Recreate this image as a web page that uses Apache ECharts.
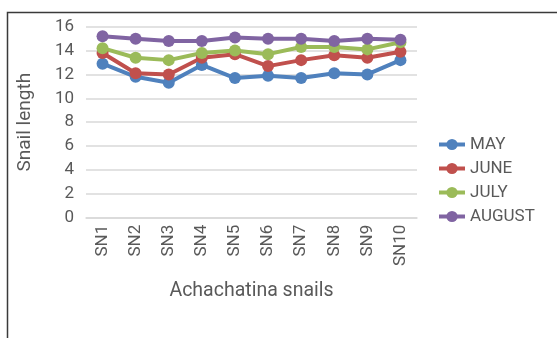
<!DOCTYPE html>
<html>
<head>
<meta charset="utf-8">
<script src="https://cdn.jsdelivr.net/npm/echarts@6/dist/echarts.min.js"></script>
<style>
  html, body { margin: 0; padding: 0; background: #fff; }
  #chart { width: 557px; height: 338px; }
</style>
</head>
<body>
<div id="chart"></div>
<script>
// Snail length by month for ten Achachatina snails
const categories = ['SN1', 'SN2', 'SN3', 'SN4', 'SN5', 'SN6', 'SN7', 'SN8', 'SN9', 'SN10'];
const seriesNames = ['MAY', 'JUNE', 'JULY', 'AUGUST'];
const may    = [12.9, 11.8, 11.3, 12.8, 11.7, 11.9, 11.7, 12.1, 12.0, 13.2];
const june   = [13.8, 12.1, 12.0, 13.4, 13.7, 12.7, 13.2, 13.6, 13.4, 13.9];
const july   = [14.2, 13.4, 13.2, 13.8, 14.0, 13.7, 14.3, 14.3, 14.1, 14.7];
const august = [15.2, 15.0, 14.8, 14.8, 15.1, 15.0, 15.0, 14.8, 15.0, 14.9];
const yTicks = { min: 0, max: 16, step: 2 };

const colors = ['#4F81BD', '#C0504D', '#9BBB59', '#8064A2'];
const textColor = '#595959';
const font = 'Roboto';

const chart = echarts.init(document.getElementById('chart'), null, { renderer: 'canvas' });

const values = [may, june, july, august];

chart.setOption({
  animation: false,
  color: colors,
  textStyle: { fontFamily: font },
  grid: { left: 86, right: 140, top: 26.7, bottom: 120.3 },
  graphic: [{
    type: 'polyline',
    shape: { points: [[7.5, 338], [7.5, 12.5], [557, 12.5]] },
    style: { stroke: '#3a3a3a', lineWidth: 1.5, fill: null },
    silent: true
  }],
  legend: {
    orient: 'vertical',
    left: 432,
    top: 131,
    itemWidth: 26,
    itemHeight: 14,
    itemGap: 7,
    lineStyle: { width: 4 },
    textStyle: { fontSize: 17, color: textColor, fontFamily: font },
    data: seriesNames
  },
  xAxis: {
    type: 'category',
    data: categories,
    boundaryGap: true,
    axisLine: { lineStyle: { color: '#d9d9d9', width: 1.5 } },
    axisTick: { show: false },
    axisLabel: { rotate: 90, fontSize: 17, color: textColor, margin: 7, fontFamily: font },
    name: 'Achachatina snails',
    nameLocation: 'middle',
    nameGap: 63,
    nameTextStyle: { fontSize: 19.5, color: textColor, fontFamily: font }
  },
  yAxis: {
    type: 'value',
    min: yTicks.min,
    max: yTicks.max,
    interval: yTicks.step,
    axisLine: { show: false },
    axisTick: { show: false },
    splitLine: { lineStyle: { color: '#d9d9d9', width: 1.5 } },
    axisLabel: { fontSize: 17, color: textColor, margin: 12, fontFamily: font },
    name: 'Snail length',
    nameLocation: 'middle',
    nameGap: 51,
    nameTextStyle: { fontSize: 19, color: textColor, fontFamily: font }
  },
  series: seriesNames.map((name, i) => ({
    name: name,
    type: 'line',
    data: values[i],
    symbol: 'circle',
    symbolSize: 12,
    lineStyle: { width: 4 },
    itemStyle: { color: colors[i] }
  }))
});
</script>
</body>
</html>
